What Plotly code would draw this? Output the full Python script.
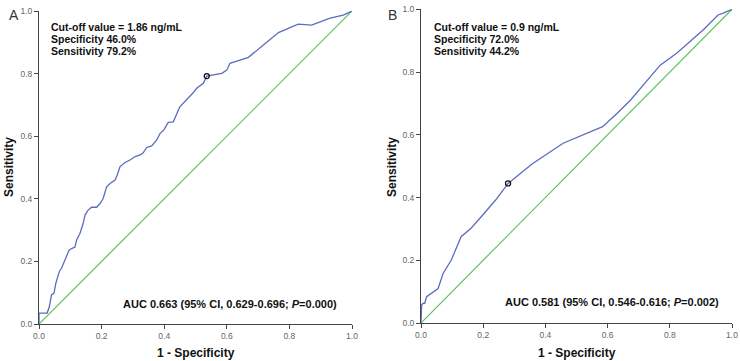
import plotly.graph_objects as go

W, H = 740, 361

# Panel A ROC curve (1 - specificity, sensitivity)
a_fpr = [0.0, 0.0, 0.026, 0.033, 0.040, 0.048, 0.054, 0.065, 0.072, 0.077, 0.088, 0.096,
         0.104, 0.115, 0.120, 0.131, 0.141, 0.147, 0.157, 0.168, 0.184, 0.195, 0.205,
         0.216, 0.227, 0.243, 0.250, 0.259, 0.275, 0.291, 0.307, 0.323, 0.333, 0.344,
         0.360, 0.376, 0.387, 0.399, 0.413, 0.429, 0.450, 0.463, 0.477, 0.491, 0.504,
         0.525, 0.536, 0.557, 0.584, 0.600, 0.610, 0.642, 0.669, 0.717, 0.765, 0.828,
         0.871, 0.930, 0.972, 1.0]
a_tpr = [0.0, 0.035, 0.035, 0.055, 0.093, 0.099, 0.131, 0.168, 0.178, 0.189, 0.216, 0.236,
         0.241, 0.246, 0.268, 0.290, 0.321, 0.348, 0.364, 0.373, 0.373, 0.385, 0.401,
         0.438, 0.449, 0.460, 0.476, 0.503, 0.516, 0.524, 0.535, 0.540, 0.547, 0.564,
         0.569, 0.588, 0.609, 0.620, 0.644, 0.646, 0.694, 0.707, 0.721, 0.737, 0.753,
         0.769, 0.792, 0.796, 0.801, 0.811, 0.833, 0.843, 0.852, 0.891, 0.931, 0.958,
         0.955, 0.977, 0.987, 1.0]
a_cut = (0.536, 0.792)

# Panel B ROC curve
b_fpr = [0.0, 0.002, 0.007, 0.012, 0.018, 0.055, 0.071, 0.097, 0.129, 0.161, 0.193, 0.240,
         0.280, 0.357, 0.457, 0.505, 0.584, 0.630, 0.674, 0.769, 0.822, 0.907,
         0.955, 0.970, 1.0]
b_tpr = [0.0, 0.057, 0.063, 0.063, 0.084, 0.110, 0.158, 0.200, 0.275, 0.302, 0.338, 0.392,
         0.445, 0.507, 0.573, 0.594, 0.626, 0.668, 0.711, 0.822, 0.860, 0.934,
         0.982, 0.987, 1.0]
b_cut = (0.280, 0.445)

ref_line = [0.0, 1.0]
ticks = [0.0, 0.2, 0.4, 0.6, 0.8, 1.0]
tick_text = ["0.0", "0.2", "0.4", "0.6", "0.8", "1.0"]

blue = "#5b6cc0"
green = "#5cc35c"

fig = go.Figure()
for xa, ya, fpr, tpr, cut in [("x", "y", a_fpr, a_tpr, a_cut), ("x2", "y2", b_fpr, b_tpr, b_cut)]:
    fig.add_trace(go.Scatter(x=ref_line, y=ref_line, mode="lines", xaxis=xa, yaxis=ya,
                             line=dict(color=green, width=1.2), cliponaxis=False, showlegend=False))
    fig.add_trace(go.Scatter(x=fpr, y=tpr, mode="lines", xaxis=xa, yaxis=ya,
                             line=dict(color=blue, width=1.3), cliponaxis=False, showlegend=False))
    fig.add_trace(go.Scatter(x=[cut[0]], y=[cut[1]], mode="markers", xaxis=xa, yaxis=ya,
                             marker=dict(symbol="circle-open", size=5, color="#111",
                                         line=dict(width=1.3, color="#111")),
                             cliponaxis=False, showlegend=False))

def px(x):
    return x / W

def py(y):
    return (H - y) / H

axis_common = dict(range=[0, 1], tickvals=ticks, ticktext=tick_text, showgrid=False,
                   zeroline=False, showline=True, linecolor="#444", linewidth=1,
                   ticks="outside", ticklen=4, tickcolor="#444", tickwidth=1,
                   tickfont=dict(family="Liberation Sans, Arial", size=8.5, color="#666"),
                   automargin=False, fixedrange=True, ticklabeloverflow="allow")

fig.update_layout(
    width=W, height=H, margin=dict(l=0, r=0, t=0, b=0),
    paper_bgcolor="white", plot_bgcolor="white",
    xaxis=dict(domain=[px(39), px(352)], anchor="y", **axis_common),
    yaxis=dict(domain=[py(324), py(11)], anchor="x", **axis_common),
    xaxis2=dict(domain=[px(421), px(732)], anchor="y2", **axis_common),
    yaxis2=dict(domain=[py(323), py(9.3)], anchor="x2", **axis_common),
)

font_txt = dict(family="Liberation Sans, Arial", size=10.5, color="#111")
font_auc = dict(family="Liberation Sans, Arial", size=11, color="#111")
font_title = dict(family="Liberation Sans, Arial", size=12, color="#111")

ann = []
def add(text, x, y, font, xanchor="left", yanchor="middle", angle=0):
    ann.append(dict(text=text, x=px(x), y=py(y), xref="paper", yref="paper",
                    xanchor=xanchor, yanchor=yanchor, showarrow=False, font=font,
                    textangle=angle))

# panel A
add("<b>Cut-off value = 1.86 ng/mL</b>", 49, 27.3, font_txt)
add("<b>Specificity 46.0%</b>", 49, 39, font_txt)
add("<b>Sensitivity 79.2%</b>", 49, 50.5, font_txt)
add("<b>AUC 0.663 (95% CI, 0.629-0.696; <i>P</i>=0.000)</b>", 339, 304, font_auc, xanchor="right")
add("A", 14, 15, dict(family="Liberation Sans, Arial", size=14, color="#333"), xanchor="center")
add("<b>1 - Specificity</b>", 196, 353, font_title, xanchor="center")
add("<b>Sensitivity</b>", 9, 167, font_title, xanchor="center", angle=-90)

# panel B
add("<b>Cut-off value = 0.9 ng/mL</b>", 432, 27.3, font_txt)
add("<b>Specificity 72.0%</b>", 432, 39, font_txt)
add("<b>Sensitivity 44.2%</b>", 432, 50.5, font_txt)
add("<b>AUC 0.581 (95% CI, 0.546-0.616; <i>P</i>=0.002)</b>", 721, 302, font_auc, xanchor="right")
add("B", 392, 15, dict(family="Liberation Sans, Arial", size=14, color="#333"), xanchor="center")
add("<b>1 - Specificity</b>", 577, 353, font_title, xanchor="center")
add("<b>Sensitivity</b>", 392, 167, font_title, xanchor="center", angle=-90)

fig.update_layout(annotations=ann)
fig.write_html("out.html")
